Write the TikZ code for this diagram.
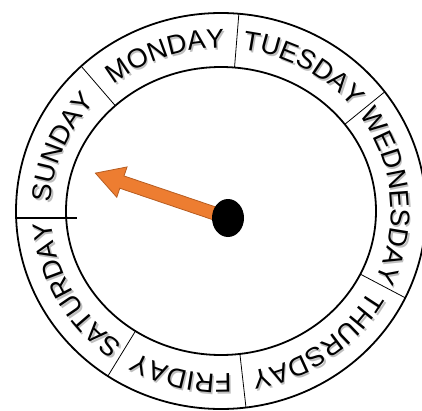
\documentclass[tikz,border=0pt]{standalone}
\usepackage{fontspec}
\newfontfamily\dayface{Liberation Sans}
\usetikzlibrary{decorations.text,calc}
\newcommand\daystyle{\dayface\fontsize{27}{31}\selectfont}
\definecolor{arrowfill}{HTML}{ED7D31}
\definecolor{arrowedge}{HTML}{B65D22}
\begin{document}
\begin{tikzpicture}[x=1pt,y=1pt,
  ring/.style={line width=1.8pt},
  divider/.style={line width=0.8pt},
  thickdivider/.style={line width=2.4pt},
  pointer/.style={fill=arrowfill,draw=arrowedge,line width=0.8pt,line join=miter}]
\useasboundingbox (0,0) rectangle (422,410);
\clip (0,0) rectangle (422,410);
\coordinate (c) at (221,199);
% rings
\draw[ring] (c) ellipse [x radius=205, y radius=198];
\draw[ring] (c) ellipse [x radius=155, y radius=144];
% dividers
\foreach \a in {85,37,-26,-83,-123.5,133}
  \draw[divider] ($(c)+(\a:155 and 144)$) -- ($(c)+(\a:205 and 198)$);
\coordinate (lo) at (15,192);
\coordinate (li) at (77,192);
\draw[thickdivider] (lo) -- (li);
% day names
\newcommand\dayword[3]{%
  \path[decorate,decoration={text along path,text align=center,text color=black!25,text={|\daystyle|#3}}]
    ($(c)+(1.5,-2)+(#1:170 and 163)$) arc[start angle=#1,end angle=#2,x radius=170,y radius=163];
  \path[decorate,decoration={text along path,text align=center,text color=black,text={|\daystyle|#3}}]
    ($(c)+(#1:170 and 163)$) arc[start angle=#1,end angle=#2,x radius=170,y radius=163];
}
\dayword{133}{85}{MONDAY}
\dayword{85}{37}{TUESDAY}
\dayword{37.5}{-26.5}{WEDNESDAY}
\dayword{-26}{-83}{THURSDAY}
\dayword{-83}{-123.5}{FRIDAY}
\dayword{-123.5}{-178}{SATURDAY}
\dayword{182}{133}{SUNDAY}
% pointer
\coordinate (hub) at (228,192);
\begin{scope}[shift={(hub)},rotate=161.3]
  \path[pointer] (0,-6.5) -- (112,-6.5) -- (112,-16) -- (140,0) -- (112,16) -- (112,6.5) -- (0,6.5) -- cycle;
\end{scope}
\fill (hub) ellipse [x radius=16, y radius=19];
\end{tikzpicture}
\end{document}
